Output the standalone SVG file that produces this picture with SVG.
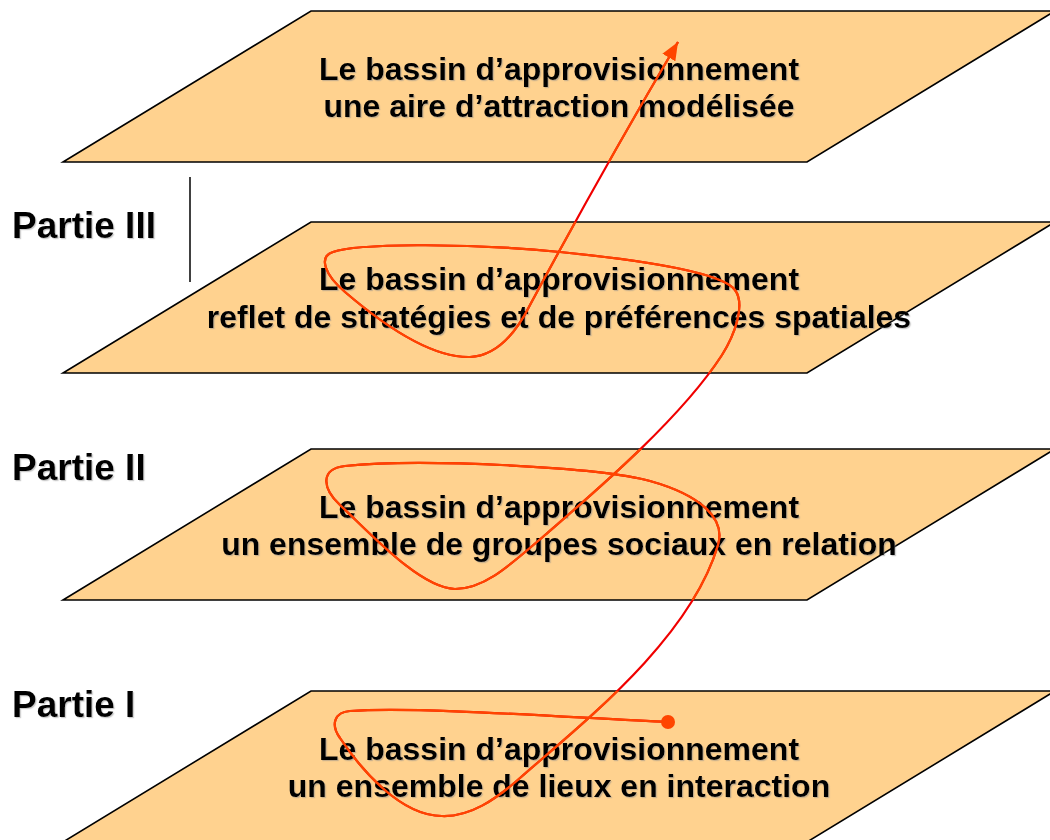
<svg xmlns="http://www.w3.org/2000/svg" xmlns:xlink="http://www.w3.org/1999/xlink" width="1050" height="840" viewBox="0 0 1050 840">
<style>
.plane{fill:#FFD28F;stroke:#000;stroke-width:1.6;stroke-linejoin:miter}
.t{font-family:"Liberation Sans",Arial,sans-serif;font-weight:bold;font-size:32px;fill:#000;text-anchor:middle;filter:url(#sh)}
.part{font-family:"Liberation Sans",Arial,sans-serif;font-weight:bold;font-size:37px;fill:#000;filter:url(#sh)}
.curve{fill:none;stroke-width:2.2;stroke-linecap:butt}
</style>
<defs>
<filter id="sh" x="-5%" y="-20%" width="110%" height="140%">
<feDropShadow dx="1.2" dy="1.2" stdDeviation="0.5" flood-color="#888" flood-opacity="0.45"/>
</filter>
<marker id="arr" markerUnits="userSpaceOnUse" markerWidth="20" markerHeight="16" refX="18" refY="7.5" orient="auto" viewBox="0 0 20 15">
<path d="M0,0 L18,7.5 L0,15 Z" fill="#FF4500"/>
</marker>
<clipPath id="planes">
<polygon points="311,11 1055,11 807,162 63,162"/>
<polygon points="311,222 1055,222 807,373 63,373"/>
<polygon points="311,449 1055,449 807,600 63,600"/>
<polygon points="311,691 1055,691 807,842 63,842"/>
</clipPath>
<path id="route" d="M668,722 C590,719 420,706 350,711 C335,712 330,724 340,738 C360,768 400,816 442,816 C470,817 495,800 520,778 C580,725 690,640 718,545 C726,518 700,495 650,481 C600,467 420,458 345,466 C320,469 322,488 340,505 C370,533 420,588 455,589 C485,589 510,565 545,535 C590,496 680,420 722,355 C734,336 746,305 735,290 C724,275 660,262 560,252 C460,242 355,244 333,252 C318,257 325,275 345,292 C380,322 430,358 470,357 C495,356 515,335 530,305 C566,238 622,137 678,42"/>
</defs>
<rect width="1050" height="840" fill="#fff"/>
<g id="plane4">
<polygon class="plane" points="311,691 1055,691 807,842 63,842"/>
<text class="t" x="559" y="760">Le bassin d’approvisionnement</text>
<text class="t" x="559" y="797">un ensemble de lieux en interaction</text>
</g>
<g id="plane3">
<polygon class="plane" points="311,449 1055,449 807,600 63,600"/>
<text class="t" x="559" y="518">Le bassin d’approvisionnement</text>
<text class="t" x="559" y="555">un ensemble de groupes sociaux en relation</text>
</g>
<g id="plane2">
<polygon class="plane" points="311,222 1055,222 807,373 63,373"/>
<text class="t" x="559" y="290">Le bassin d’approvisionnement</text>
<text class="t" x="559" y="328">reflet de stratégies et de préférences spatiales</text>
</g>
<g id="plane1">
<polygon class="plane" points="311,11 1055,11 807,162 63,162"/>
<text class="t" x="559" y="80">Le bassin d’approvisionnement</text>
<text class="t" x="559" y="117">une aire d’attraction modélisée</text>
</g>
<g id="labels">
<text class="part" x="12" y="238">Partie III</text>
<text class="part" x="12" y="480">Partie II</text>
<text class="part" x="12" y="717">Partie I</text>
<line x1="190" y1="177" x2="190" y2="282" stroke="#111" stroke-width="1.6"/>
</g>
<g id="connectors">
<use xlink:href="#route" class="curve" stroke="#F00000" marker-end="url(#arr)"/>
<use xlink:href="#route" class="curve" stroke="#FF4500" clip-path="url(#planes)"/>
<circle cx="668" cy="722" r="7" fill="#FF4500"/>
</g>
</svg>
